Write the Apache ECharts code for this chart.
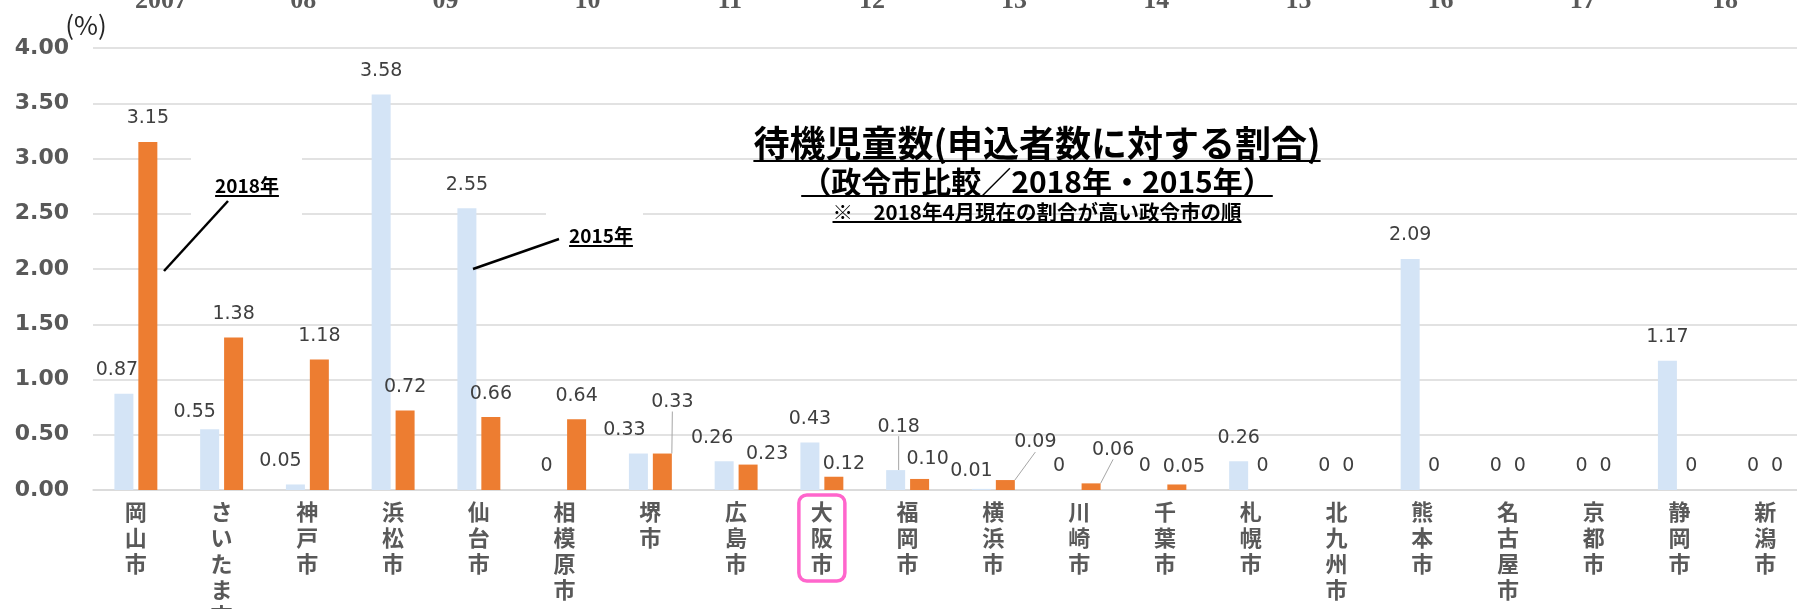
<!DOCTYPE html>
<html>
<head>
<meta charset="UTF-8">
<title>待機児童数</title>
<script src="https://cdn.jsdelivr.net/npm/echarts/dist/echarts.min.js"></script>
<style>
  html, body { margin: 0; padding: 0; background: #fff; }
  #main { width: 1797px; height: 609px; }
</style>
</head>
<body>
<div id="main"></div>
<script>
// 政令市（2018年4月の割合が高い順）
var cities = ['岡山市', 'さいたま市', '神戸市', '浜松市', '仙台市', '相模原市', '堺市', '広島市', '大阪市', '福岡市',
  '横浜市', '川崎市', '千葉市', '札幌市', '北九州市', '熊本市', '名古屋市', '京都市', '静岡市', '新潟市'];
var rate2015 = [0.87, 0.55, 0.05, 3.58, 2.55, 0, 0.33, 0.26, 0.43, 0.18, 0.01, 0, 0, 0.26, 0, 2.09, 0, 0, 1.17, 0];
var rate2018 = [3.15, 1.38, 1.18, 0.72, 0.66, 0.64, 0.33, 0.23, 0.12, 0.10, 0.09, 0.06, 0.05, 0, 0, 0, 0, 0, 0, 0];
// 上に切れて見えている別グラフの年目盛
var yearTicks = ['2007', '08', '09', '10', '11', '12', '13', '14', '15', '16', '17', '18'];

var highlightCity = '大阪市';

// ラベルのずらし（手で動かしたラベル）と引き出し線
var shift2015 = {0: [-7, 0], 1: [-15, 6], 2: [-15, 0], 5: [-6, 0], 6: [-14, 0], 7: [-12, 0], 9: [3, -20], 10: [-10, 6], 11: [-8, 0], 12: [-8, 0]};
var shift2018 = {6: [10, -28], 7: [19, 13], 8: [10, 11], 9: [8, 4], 10: [30, -14], 11: [22, -10], 12: [7, 6]};
var leader2015 = [9];
var leader2018 = [6, 10, 11];

var CJK = '"Noto Sans CJK JP", sans-serif';

function textWidth(str, font) {
  var ctx = document.createElement('canvas').getContext('2d');
  ctx.font = font;
  return ctx.measureText(str).width;
}

function fmt(p) {
  return p.value === 0 ? '0' : p.value.toFixed(2);
}

function items(values, leaders) {
  return values.map(function (v, i) {
    return {value: v, labelLine: {show: leaders.indexOf(i) >= 0}};
  });
}

function layoutBy(shift) {
  return function (p) {
    var s = shift[p.dataIndex];
    return s ? {dx: s[0], dy: s[1]} : {};
  };
}

// 下線付きテキスト（中央揃え）
function underlined(str, cx, cy, size, lineGap) {
  var font = 'bold ' + size + 'px ' + CJK;
  var w = textWidth(str, font);
  return [
    {type: 'text', x: cx, y: cy, z: 10,
      style: {text: str, font: font, fill: '#000', textAlign: 'center', textVerticalAlign: 'middle'}},
    {type: 'line', z: 10,
      shape: {x1: cx - w / 2, y1: cy + lineGap, x2: cx + w / 2, y2: cy + lineGap},
      style: {stroke: '#000', lineWidth: 2}}
  ];
}

var catData = cities.map(function (c) {
  if (c !== highlightCity) return c;
  return {value: c, textStyle: {borderColor: '#ff66cc', borderWidth: 3.5, borderRadius: 8}};
});

var graphics = [
  // テキストボックスの白地（目盛線を隠す）
  {type: 'rect', z: 1, shape: {x: 191, y: 140, width: 111, height: 95}, style: {fill: '#fff'}},
  {type: 'rect', z: 1, shape: {x: 546, y: 195, width: 97, height: 60}, style: {fill: '#fff'}},
  {type: 'text', x: 86, y: 25, z: 10,
    style: {text: '(%)', font: 'normal 26px "Noto Sans CJK JP"', fill: '#262626',
      textAlign: 'center', textVerticalAlign: 'middle'}},
  {type: 'line', z: 10, shape: {x1: 164, y1: 271, x2: 228, y2: 201}, style: {stroke: '#000', lineWidth: 2.5}},
  {type: 'line', z: 10, shape: {x1: 473, y1: 269, x2: 559, y2: 239}, style: {stroke: '#000', lineWidth: 2.5}}
];
graphics = graphics
  .concat(underlined('待機児童数(申込者数に対する割合)', 1037, 143, 36, 18))
  .concat(underlined('（政令市比較／2018年・2015年）', 1037, 182, 30, 14))
  .concat(underlined('※　2018年4月現在の割合が高い政令市の順', 1037, 212, 20.5, 10))
  .concat(underlined('2018年', 247, 186, 19, 10))
  .concat(underlined('2015年', 601, 236, 19, 10));

var labelBase = {
  show: true,
  position: 'top',
  distance: 14,
  formatter: fmt,
  fontFamily: 'DejaVu Sans',
  fontSize: 19,
  color: '#3f3f3f'
};

var myChart = echarts.init(document.getElementById('main'));

var option = {
  animation: false,
  backgroundColor: '#fff',
  grid: [
    {left: 93, right: -11, top: 48, bottom: 119, outerBoundsMode: 'none'},
    {left: 90, right: 1, top: -60, height: 40, outerBoundsMode: 'none'}
  ],
  xAxis: [
    {
      type: 'category',
      gridIndex: 0,
      data: catData,
      axisLine: {show: true, lineStyle: {color: '#d9d9d9', width: 1.5}},
      axisTick: {show: false},
      axisLabel: {
        interval: 0,
        margin: 5,
        padding: [4, 12],
        fontFamily: CJK,
        fontWeight: 'bold',
        fontSize: 22,
        lineHeight: 26,
        color: '#595959',
        formatter: function (v) { return v.split('').join('\n'); }
      }
    },
    {
      type: 'category',
      gridIndex: 1,
      data: yearTicks,
      axisLine: {show: false},
      axisTick: {show: false},
      axisLabel: {interval: 0, margin: 8, fontFamily: 'Liberation Serif', fontWeight: 'bold', fontSize: 26, color: '#595959'}
    }
  ],
  yAxis: [
    {
      type: 'value',
      gridIndex: 0,
      min: 0,
      max: 4,
      interval: 0.5,
      axisLine: {show: false},
      axisTick: {show: false},
      splitLine: {lineStyle: {color: '#d9d9d9', width: 1.5}},
      axisLabel: {
        margin: 24,
        fontFamily: 'DejaVu Sans',
        fontWeight: 'bold',
        fontSize: 22,
        color: '#595959',
        formatter: function (v) { return v.toFixed(2); }
      }
    },
    {type: 'value', gridIndex: 1, show: false}
  ],
  series: [
    {
      name: '2015年',
      type: 'bar',
      barWidth: 19,
      barGap: '26%',
      itemStyle: {color: '#d4e4f6'},
      label: labelBase,
      labelLayout: layoutBy(shift2015),
      labelLine: {show: false, lineStyle: {color: '#a6a6a6', width: 1}},
      data: items(rate2015, leader2015)
    },
    {
      name: '2018年',
      type: 'bar',
      barWidth: 19,
      barGap: '26%',
      itemStyle: {color: '#ed7d31'},
      label: labelBase,
      labelLayout: layoutBy(shift2018),
      labelLine: {show: false, lineStyle: {color: '#a6a6a6', width: 1}},
      data: items(rate2018, leader2018)
    }
  ],
  graphic: graphics
};

myChart.setOption(option);
</script>
</body>
</html>
